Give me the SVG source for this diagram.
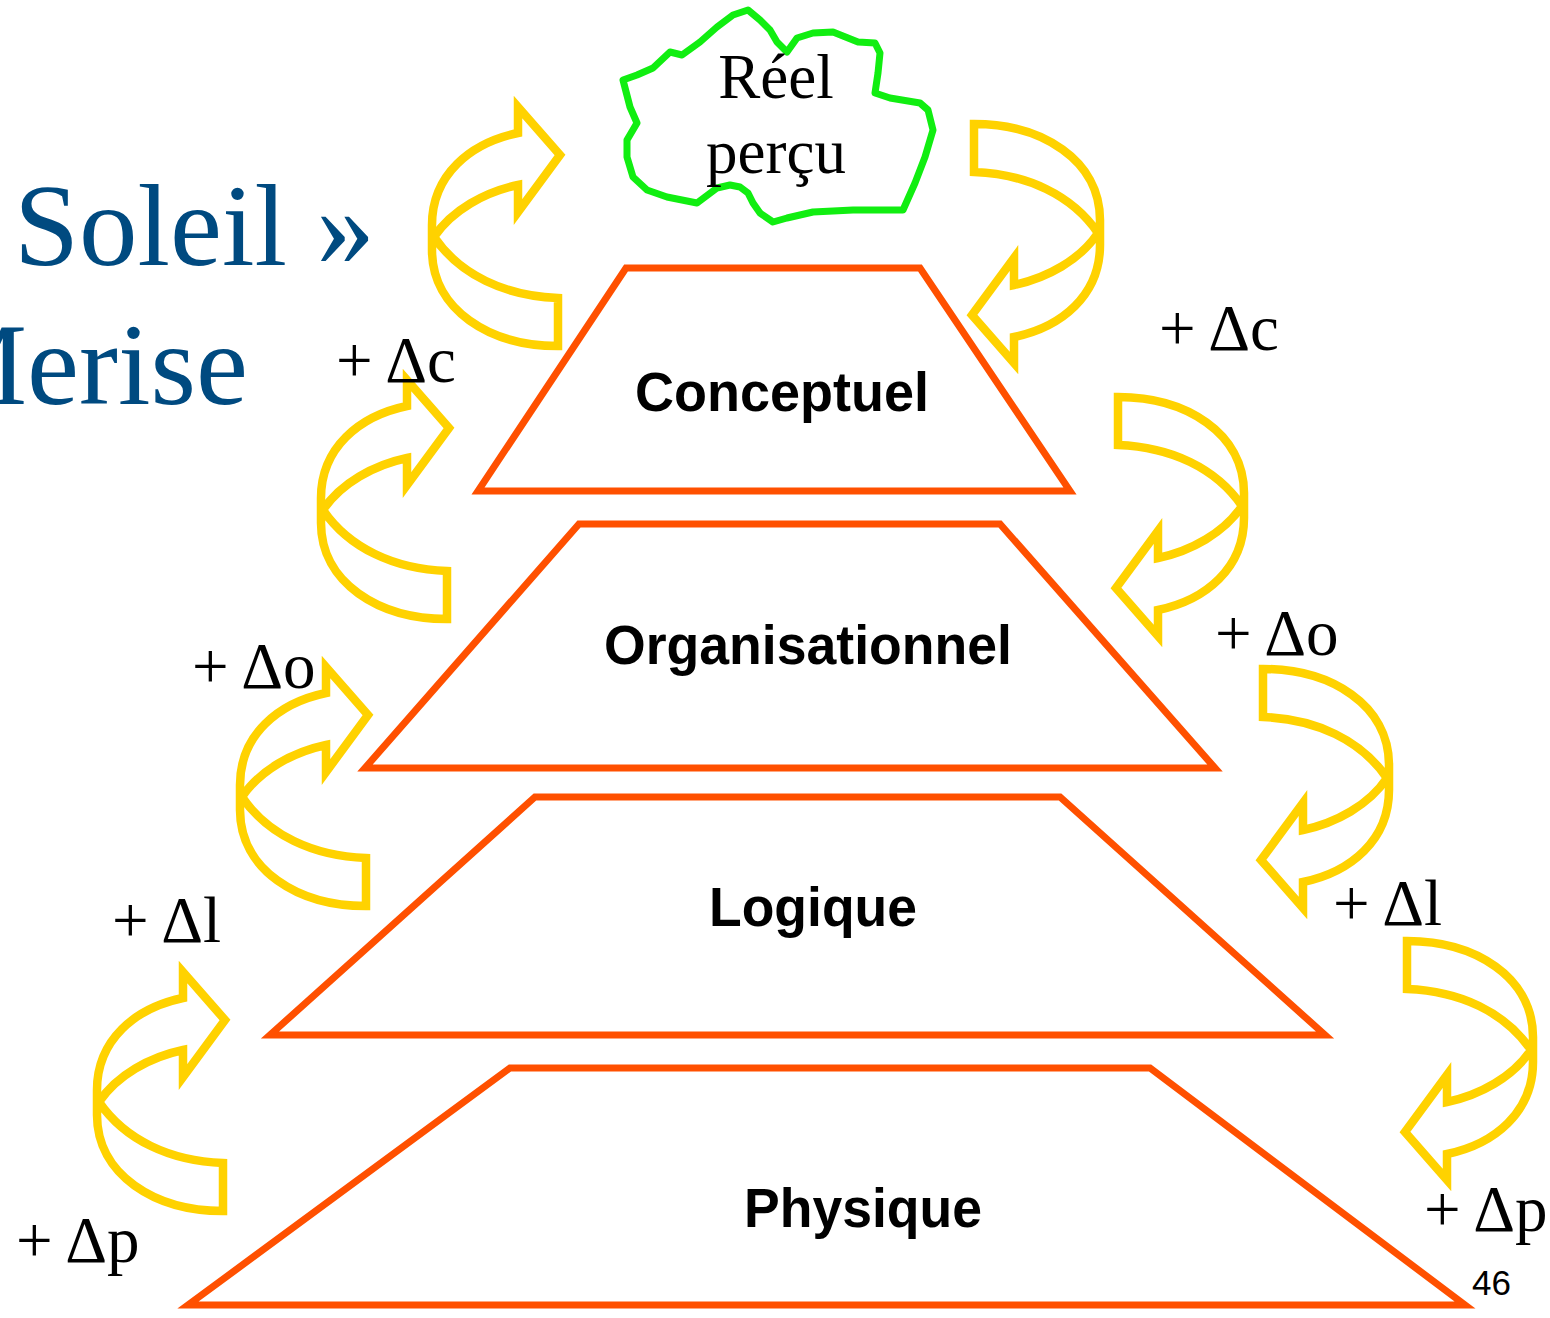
<svg xmlns="http://www.w3.org/2000/svg" xmlns:xlink="http://www.w3.org/1999/xlink" width="1550" height="1318" viewBox="0 0 1550 1318">
  <style>
    .level { fill: #ffffff; stroke: #ff5000; stroke-width: 7; stroke-linejoin: miter; }
    .level-label { font-family: "Liberation Sans", Arial, sans-serif; font-weight: bold; font-size: 56px; fill: #000000; text-anchor: middle; }
    .cloud { fill: #ffffff; stroke: #11ee11; stroke-width: 7; stroke-linejoin: round; }
    .cloud-label { font-family: "Liberation Serif", "Times New Roman", serif; font-size: 63px; fill: #000000; text-anchor: middle; }
    .loop { fill: none; stroke: #ffd200; stroke-width: 8.5; stroke-linejoin: miter; }
    .delta { font-family: "Liberation Serif", "Times New Roman", serif; font-size: 65px; fill: #000000; }
    .title { font-family: "Liberation Serif", "Times New Roman", serif; font-size: 117px; fill: #004a80; }
    .page { font-family: "Liberation Sans", Arial, sans-serif; font-size: 35px; fill: #000000; }
  </style>
  <defs>
    <!-- curved arrow looping up and to the right -->
    <path id="curl" d="M 558,346 C 490,346 432,310 432,250 L 432,225 C 432,175 470,143 518,133 L 518,107 L 560,155 L 518,212 L 518,185 C 485,192 452,210 434,237 C 460,275 505,296 558,298 Z"/>
  </defs>

  <!-- heading -->
  <g id="title">
    <text class="title" x="14" y="265">Soleil »</text>
    <text class="title" x="-77" y="404">Merise</text>
  </g>

  <!-- abstraction levels -->
  <g id="conceptuel">
    <polygon class="level" points="626,268 920,268 1070,491 478,491"/>
    <text class="level-label" x="782" y="411" textLength="294" lengthAdjust="spacingAndGlyphs">Conceptuel</text>
  </g>
  <g id="organisationnel">
    <polygon class="level" points="579,524 1000,524 1215,768 365,768"/>
    <text class="level-label" x="808" y="664" textLength="408" lengthAdjust="spacingAndGlyphs">Organisationnel</text>
  </g>
  <g id="logique">
    <polygon class="level" points="535,797 1060,797 1325,1035 270,1035"/>
    <text class="level-label" x="813" y="926" textLength="208" lengthAdjust="spacingAndGlyphs">Logique</text>
  </g>
  <g id="physique">
    <polygon class="level" points="510,1068 1150,1068 1465,1305 188,1305"/>
    <text class="level-label" x="863" y="1227" textLength="238" lengthAdjust="spacingAndGlyphs">Physique</text>
  </g>

  <!-- perceived reality -->
  <g id="reel-percu">
    <path class="cloud" d="M 748,10 L 760,20 L 770,30 L 777,42 L 787,52 L 797,38 L 813,33 L 833,32 L 858,42 L 875,43 L 880,53 L 878,73 L 875,93 L 890,98 L 920,103 L 928,110 L 933,130 L 925,157 L 915,183 L 903,210 L 853,210 L 813,212 L 787,218 L 773,222 L 760,213 L 753,203 L 748,193 L 740,187 L 730,185 L 717,188 L 697,203 L 667,197 L 647,190 L 633,177 L 627,157 L 627,140 L 637,123 L 630,107 L 623,80 L 637,75 L 653,68 L 670,52 L 682,55 L 700,42 L 717,27 L 733,15 Z"/>
    <text class="cloud-label" x="776" y="98">Réel</text>
    <text class="cloud-label" x="776" y="173">perçu</text>
  </g>

  <!-- refinement loops between levels -->
  <g id="connectors">
    <use xlink:href="#curl" class="loop"/>
    <use xlink:href="#curl" class="loop" transform="translate(-111,273)"/>
    <use xlink:href="#curl" class="loop" transform="translate(-192,560)"/>
    <use xlink:href="#curl" class="loop" transform="translate(-335,865)"/>
    <use xlink:href="#curl" class="loop" transform="matrix(-1,0,0,-1,1532,470)"/>
    <use xlink:href="#curl" class="loop" transform="matrix(-1,0,0,-1,1676,743)"/>
    <use xlink:href="#curl" class="loop" transform="matrix(-1,0,0,-1,1821,1015)"/>
    <use xlink:href="#curl" class="loop" transform="matrix(-1,0,0,-1,1965,1287)"/>
  </g>

  <!-- increments -->
  <g id="deltas">
    <text class="delta" x="336" y="382">+ Δc</text>
    <text class="delta" x="1159" y="350">+ Δc</text>
    <text class="delta" x="192" y="688">+ Δo</text>
    <text class="delta" x="1215" y="655">+ Δo</text>
    <text class="delta" x="112" y="942">+ Δl</text>
    <text class="delta" x="1333" y="925">+ Δl</text>
    <text class="delta" x="16" y="1262">+ Δp</text>
    <text class="delta" x="1424" y="1231">+ Δp</text>
  </g>

  <text class="page" x="1472" y="1295">46</text>
</svg>
